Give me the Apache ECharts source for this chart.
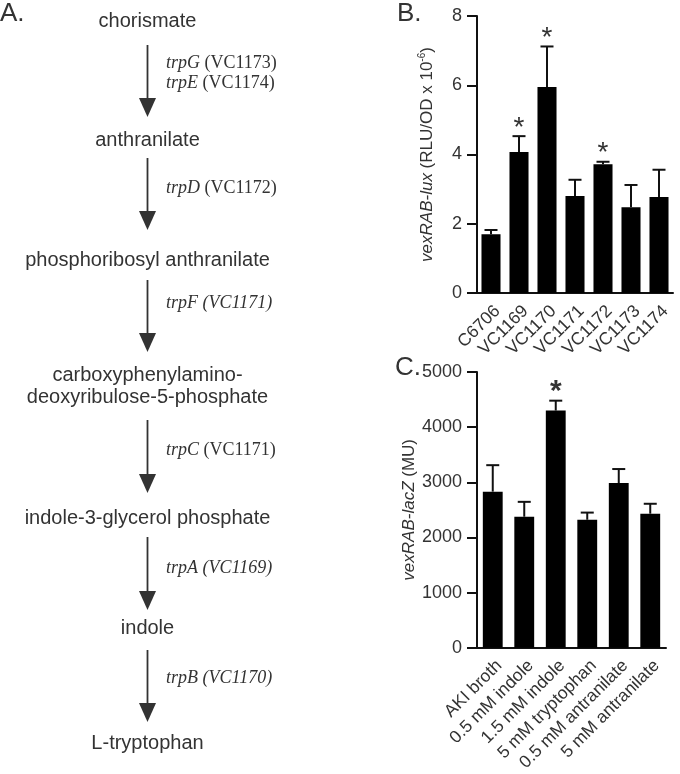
<!DOCTYPE html>
<html><head><meta charset="utf-8">
<script src="https://cdn.jsdelivr.net/npm/echarts@6/dist/echarts.min.js"></script>
<style>html,body{margin:0;padding:0;background:#fff}#c{width:680px;height:774px}</style>
</head><body><div id="c"></div>
<script>
// ---- Panel B data ----
const strainCats = ['C6706','VC1169','VC1170','VC1171','VC1172','VC1173','VC1174'];
const luxMean = [1.70, 4.07, 5.95, 2.80, 3.72, 2.48, 2.77];
const luxErr  = [0.12, 0.46, 1.17, 0.47, 0.07, 0.64, 0.79];
const luxSig  = [0, 1, 1, 0, 1, 0, 0];
// ---- Panel C data ----
const mediaCats = ['AKI broth','0.5 mM indole','1.5 mM indole','5 mM tryptophan','0.5 mM antranilate','5 mM antranilate'];
const lacMean = [2830, 2375, 4300, 2320, 2985, 2430];
const lacErr  = [480, 270, 180, 130, 255, 180];
const lacSig  = [0, 0, 1, 0, 0, 0];
// ---- Panel A pathway ----
const metabolites = ['chorismate','anthranilate','phosphoribosyl anthranilate',
  'carboxyphenylamino-\ndeoxyribulose-5-phosphate','indole-3-glycerol phosphate','indole','L-tryptophan'];
const enzymes = [
  ['{i|trpG} (VC1173)','{i|trpE} (VC1174)'],
  ['{i|trpD} (VC1172)'],
  ['{i|trpF (VC1171)}'],
  ['{i|trpC} (VC1171)'],
  ['{i|trpA (VC1169)}'],
  ['{i|trpB (VC1170)}']
];

// layout of panel A
const SANS = 'Liberation Sans, Arial, sans-serif';
const SERIF = 'Liberation Serif, Times New Roman, serif';
const TXT = '#333';
const metY = [21, 140, 260, 386, 518, 628, 743];
const arrowY = [[45,117],[158,230],[280,352],[420,493],[537,610],[650,722]];
const enzY = [[63,83],[188],[303],[450],[568],[678]];
const AX = 147.5;

const graphics = [];
metabolites.forEach((m, i) => {
  graphics.push({type:'text', x: AX, y: metY[i], style:{text:m, font:'20px '+SANS, fill:TXT,
    align:'center', verticalAlign:'middle', lineHeight:22}});
});
arrowY.forEach((a, i) => {
  graphics.push({type:'line', shape:{x1:AX, y1:a[0], x2:AX, y2:a[1]-16}, style:{stroke:TXT, lineWidth:1.8}});
  graphics.push({type:'polygon', shape:{points:[[AX-8.5,a[1]-19],[AX+8.5,a[1]-19],[AX,a[1]]]}, style:{fill:TXT}});
  enzymes[i].forEach((e, j) => {
    graphics.push({type:'text', x:166, y:enzY[i][j], style:{text:e, font:'18px '+SERIF, fill:TXT,
      align:'left', verticalAlign:'middle', rich:{i:{fontStyle:'italic', fontFamily:SERIF, fontSize:18, fill:TXT}}}});
  });
});
// panel letters
[['A.',0,14],['B.',397,14],['C.',395,368]].forEach(p => {
  graphics.push({type:'text', x:p[1], y:p[2], style:{text:p[0], font:'26px '+SANS, fill:TXT, align:'left', verticalAlign:'middle'}});
});

function errSeries(xi, yi, mean, err, sig, capHalf, starFont, starWeight, starGap) {
  return {
    type:'custom', xAxisIndex:xi, yAxisIndex:yi, z:5, clip:false,
    data: mean.map((m, i) => [i, m, m + err[i], sig[i]]),
    renderItem: (params, api) => {
      const b = api.coord([api.value(0), api.value(1)]);
      const t = api.coord([api.value(0), api.value(2)]);
      const ch = [
        {type:'line', shape:{x1:b[0], y1:b[1], x2:t[0], y2:t[1]}, style:{stroke:'#111', lineWidth:2}},
        {type:'line', shape:{x1:t[0]-capHalf, y1:t[1], x2:t[0]+capHalf, y2:t[1]}, style:{stroke:'#111', lineWidth:2}}
      ];
      if (api.value(3)) {
        ch.push({type:'text', x:t[0], y:t[1]-starGap, style:{text:'*', fill:TXT,
          font: starWeight + ' ' + starFont + 'px ' + SANS, align:'center', verticalAlign:'top'}});
      }
      return {type:'group', children:ch};
    }
  };
}

const axisLineStyle = {color:'#111', width:2};
function xAx(gi, cats, tickLen) {
  return {type:'category', gridIndex:gi, data:cats,
    axisLine:{lineStyle:axisLineStyle}, axisTick:{alignWithLabel:true, length:tickLen, lineStyle:axisLineStyle},
    axisLabel:{rotate:45, fontSize:17.5, fontFamily:SANS, color:TXT, margin:9, interval:0, verticalAlign:'top'}};
}
function yAx(gi, max, interval, name, gap) {
  return {type:'value', gridIndex:gi, min:0, max:max, interval:interval,
    name:name, nameLocation:'middle', nameGap:gap, nameRotate:90,
    nameTextStyle:{fontSize:17, fontFamily:SANS, color:TXT,
      rich:{i:{fontStyle:'italic', fontSize:17, fontFamily:SANS, color:TXT},
            s:{fontSize:10, fontFamily:SANS, color:TXT, verticalAlign:'top', lineHeight:20}}},
    axisLine:{show:true, lineStyle:axisLineStyle}, axisTick:{show:true, inside:false, length:10, lineStyle:{color:'#111', width:2}},
    splitLine:{show:false},
    axisLabel:{fontSize:18, fontFamily:SANS, color:TXT, margin:15, formatter: v => String(v)}};
}

const chart = echarts.init(document.getElementById('c'), null, {renderer:'canvas'});
chart.setOption({
  backgroundColor:'#fff',
  animation:false,
  graphic: graphics,
  grid:[
    {left:477, top:16, width:196, height:277},
    {left:477, top:372, width:189, height:278}
  ],
  xAxis:[xAx(0, strainCats, 7), xAx(1, mediaCats, 9)],
  yAxis:[
    yAx(0, 8, 2, '{i|vexRAB-lux} (RLU/OD x 10{s|-6})', 40),
    yAx(1, 5000, 1000, '{i|vexRAB-lacZ} (MU)', 58)
  ],
  series:[
    {type:'bar', xAxisIndex:0, yAxisIndex:0, data:luxMean, barWidth:'68%', itemStyle:{color:'#000'}},
    errSeries(0, 0, luxMean, luxErr, luxSig, 6.5, 28, 'normal', 22),
    {type:'bar', xAxisIndex:1, yAxisIndex:1, data:lacMean, barWidth:'63%', itemStyle:{color:'#000'}},
    errSeries(1, 1, lacMean, lacErr, lacSig, 6.5, 30, 'bold', 24)
  ]
});
</script></body></html>
